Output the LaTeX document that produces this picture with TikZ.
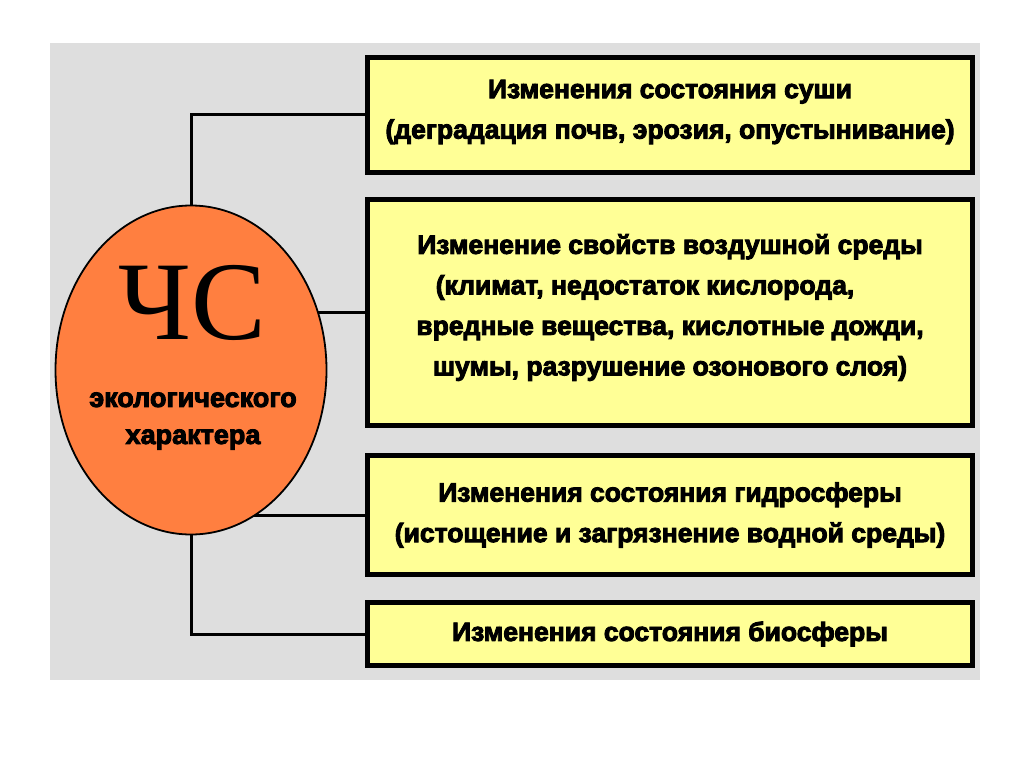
\documentclass[tikz,border=0pt]{standalone}
\usepackage{fontspec}
\setmainfont{Liberation Sans}
\newfontfamily\chsfont{Liberation Serif}
\newfontfamily\heavyfont[FakeBold=3.5]{Liberation Sans Bold}
\usetikzlibrary{shapes.geometric}
\usepackage{xcolor}

\definecolor{panelgray}{RGB}{222,222,222}
\definecolor{boxyellow}{RGB}{255,255,150}
\definecolor{ellorange}{RGB}{255,127,64}

\pgfdeclarelayer{under}
\pgfsetlayers{under,main}

% lift a line of text without changing the box size
\newcommand{\lifted}[2]{\raisebox{#1}[\height][\depth]{#2}}

\begin{document}
\begin{tikzpicture}[
    x=1pt, y=-1pt,
    topicbox/.style={draw=black, line width=5pt, fill=boxyellow, minimum width=605pt,
        inner sep=0pt, align=center, font=\heavyfont\fontsize{26.5}{40.5}\selectfont},
    link/.style={draw=black, line width=3pt}
]
    % page and grey panel
    \useasboundingbox (0,0) rectangle (1024,767);
    \def\boxx{670}

    % central ellipse
    \node[ellipse, draw=black, line width=1.8pt, fill=ellorange, minimum width=271pt,
        minimum height=329pt, inner sep=0pt] (chs) at (191,370) {};
    \node[font=\chsfont\fontsize{112}{112}\selectfont] (chstitle) at (192,303) {ЧС};
    \node[align=center, font=\heavyfont\fontsize{27}{37}\selectfont] (chssub) at (193,421)
        {экологического\\характера};

    % the four boxes
    \node[topicbox, minimum height=115pt] (land) at (\boxx,115)
        {\lifted{3pt}{Изменения состояния суши}\\
         \lifted{3pt}{(деградация почв, эрозия, опустынивание)}};
    \node[topicbox, minimum height=226pt] (air) at (\boxx,312.5)
        {\lifted{5pt}{Изменение свойств воздушной среды}\\
         \lifted{5pt}{(климат, недостаток кислорода,\hspace{50pt}}\\
         \lifted{5pt}{вредные вещества, кислотные дожди,}\\
         \lifted{5pt}{шумы, разрушение озонового слоя)}};
    \node[topicbox, minimum height=119pt] (water) at (\boxx,515)
        {Изменения состояния гидросферы\\(истощение и загрязнение водной среды)};
    \node[topicbox, minimum height=63pt] (bio) at (\boxx,634)
        {Изменения состояния биосферы};

    \begin{pgfonlayer}{under}
        \fill[white] (0,0) rectangle (1024,767);
        \fill[panelgray] (50,43) rectangle (980,680);
        % connectors
        \draw[link] (chs.north) |- (land.west);
        \draw[link] (chs.center |- air.west) -- (air.west);
        \draw[link] (chs.center |- water.west) -- (water.west);
        \draw[link] (chs.south) |- (bio.west);
    \end{pgfonlayer}
\end{tikzpicture}
\end{document}
